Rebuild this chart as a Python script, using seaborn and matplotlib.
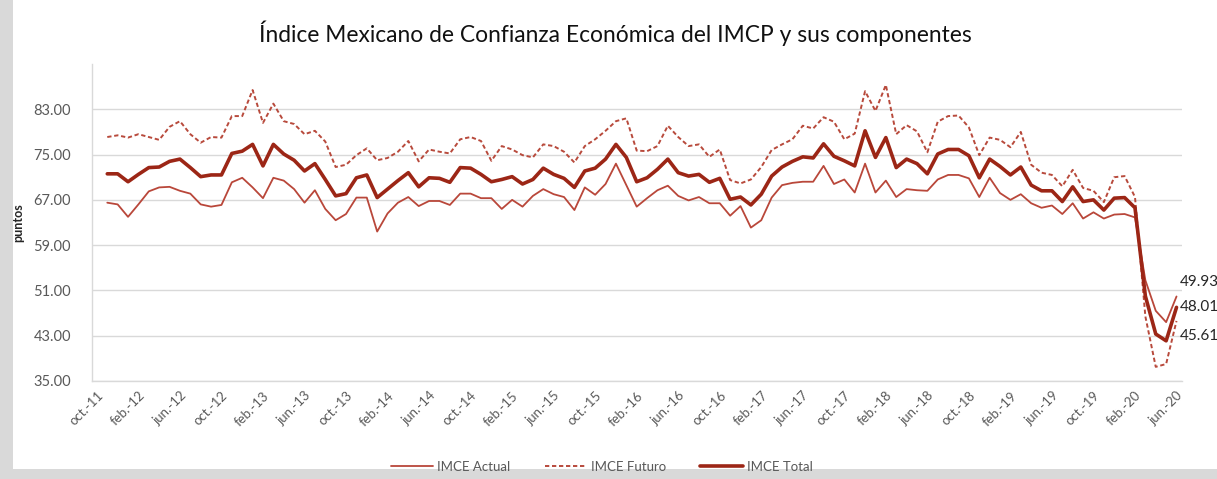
import matplotlib
matplotlib.use("Agg")
import matplotlib.pyplot as plt
import numpy as np
import pandas as pd
import seaborn as sns
from matplotlib.patches import Rectangle
from matplotlib.ticker import FixedLocator, FuncFormatter


MONTH_ABBR = ["ene.", "feb.", "mar.", "abr.", "may.", "jun.",
              "jul.", "ago.", "sep.", "oct.", "nov.", "dic."]

# categories: oct-11 ... jun-20 (data begins nov-11)
START_YEAR, START_MONTH = 2011, 10
N_CATEGORIES = 105

imce_actual = [
    66.5, 66.2, 64.0, 66.2, 68.5, 69.2, 69.3, 68.6, 68.1, 66.2, 65.8, 66.1,
    70.1, 70.9, 69.2, 67.3, 70.9, 70.4, 68.9, 66.5, 68.7, 65.4, 63.4, 64.5,
    67.4, 67.4, 61.4, 64.6, 66.5, 67.5, 65.9, 66.8, 66.8, 66.1, 68.1, 68.1,
    67.3, 67.3, 65.4, 67.0, 65.8, 67.7, 68.9, 68.0, 67.5, 65.2, 69.2, 67.9,
    69.8, 73.4, 69.6, 65.8, 67.3, 68.7, 69.5, 67.7, 66.9, 67.5, 66.4, 66.4,
    64.2, 65.9, 62.1, 63.4, 67.4, 69.6, 70.0, 70.2, 70.2, 73.0, 69.8, 70.6,
    68.3, 73.4, 68.3, 70.4, 67.5, 68.9, 68.7, 68.6, 70.6, 71.4, 71.4, 70.8,
    67.5, 70.9, 68.2, 67.0, 68.0, 66.4, 65.6, 66.0, 64.5, 66.4, 63.7, 64.8,
    63.7, 64.4, 64.5, 63.9, 52.8, 47.4, 45.4, 49.93,
]

imce_futuro = [
    78.1, 78.4, 78.0, 78.6, 78.1, 77.6, 79.9, 80.9, 78.6, 77.1, 78.1, 78.0,
    81.8, 81.8, 86.4, 80.6, 84.0, 80.9, 80.4, 78.6, 79.2, 77.3, 72.8, 73.2,
    74.9, 76.1, 74.0, 74.4, 75.5, 77.4, 73.8, 75.9, 75.5, 75.2, 77.7, 78.1,
    77.4, 73.9, 76.5, 75.9, 74.9, 74.5, 76.8, 76.5, 75.5, 73.6, 76.5, 77.7,
    79.2, 80.9, 81.4, 75.7, 75.6, 76.5, 80.1, 78.1, 76.5, 76.8, 74.6, 75.9,
    70.5, 69.9, 70.6, 72.8, 75.8, 76.8, 77.7, 80.1, 79.6, 81.6, 80.8, 77.7,
    78.7, 86.2, 82.7, 87.3, 78.6, 80.2, 79.1, 75.4, 80.8, 81.8, 81.9, 79.8,
    74.9, 78.0, 77.6, 76.3, 79.0, 73.2, 71.8, 71.4, 69.4, 72.3, 69.1, 68.6,
    66.6, 71.0, 71.2, 67.5, 46.4, 37.5, 38.0, 45.61,
]

imce_total = [
    71.6, 71.6, 70.2, 71.5, 72.7, 72.8, 73.8, 74.2, 72.7, 71.1, 71.4, 71.4,
    75.2, 75.6, 76.8, 73.0, 76.8, 75.1, 74.0, 72.1, 73.4, 70.6, 67.7, 68.1,
    70.9, 71.4, 67.4, 68.9, 70.4, 71.8, 69.3, 70.9, 70.8, 70.1, 72.7, 72.6,
    71.5, 70.2, 70.6, 71.1, 69.8, 70.6, 72.6, 71.5, 70.8, 69.2, 72.1, 72.6,
    74.2, 76.8, 74.5, 70.2, 70.9, 72.4, 74.2, 71.8, 71.2, 71.5, 70.1, 70.8,
    67.1, 67.5, 66.1, 68.0, 71.2, 72.8, 73.8, 74.6, 74.4, 76.9, 74.7, 73.9,
    73.0, 79.2, 74.5, 78.0, 72.7, 74.2, 73.4, 71.6, 75.1, 75.9, 75.9, 74.8,
    70.9, 74.2, 72.9, 71.4, 72.8, 69.6, 68.6, 68.6, 66.7, 69.3, 66.7, 67.0,
    65.2, 67.3, 67.4, 65.6, 50.0, 43.3, 42.1, 48.01,
]

y_ticks = [35, 43, 51, 59, 67, 75, 83]

RED_THIN = "#b9473a"
RED_DASH = "#b84a3c"
RED_THICK = "#9c2616"
TEXT = "#595959"
GRID = "#d9d9d9"


def category_labels():
    labels = []
    for i in range(N_CATEGORIES):
        m = START_MONTH - 1 + i
        year = START_YEAR + m // 12
        labels.append(f"{MONTH_ABBR[m % 12]}-{year % 100:02d}")
    return labels


def build_frame():
    n = len(imce_total)
    pos = np.arange(N_CATEGORIES - n, N_CATEGORIES)
    return pd.DataFrame({
        "pos": pos,
        "actual": imce_actual,
        "futuro": imce_futuro,
        "total": imce_total,
    })


def run():
    sns.set_style("white")
    plt.rcParams["font.family"] = ["Lato", "DejaVu Sans"]

    df = build_frame()
    labels = category_labels()

    fig = plt.figure(figsize=(12.17, 4.79), dpi=100)
    fig.patch.set_facecolor("white")
    # grey frame at the left and bottom edges of the screenshot
    fig.patches.append(Rectangle((0, 0), 13 / 1217, 1, transform=fig.transFigure,
                                 facecolor="#d9d9d9", edgecolor="none", zorder=-10))
    fig.patches.append(Rectangle((0, 0), 1, 10 / 479, transform=fig.transFigure,
                                 facecolor="#d9d9d9", edgecolor="none", zorder=-10))
    ax = fig.add_axes([91.7 / 1217, 1 - 381 / 479, 1090 / 1217, 317 / 479])
    ax.set_facecolor("white")

    sns.lineplot(data=df, x="pos", y="actual", ax=ax, color=RED_THIN,
                 linewidth=1.3, label="IMCE Actual")
    sns.lineplot(data=df, x="pos", y="futuro", ax=ax, color=RED_DASH,
                 linewidth=1.4, linestyle=(0, (2.2, 1.4)), label="IMCE Futuro")
    sns.lineplot(data=df, x="pos", y="total", ax=ax, color=RED_THICK,
                 linewidth=2.6, label="IMCE Total")

    ax.set_xlim(-0.5, N_CATEGORIES - 0.5)
    ax.set_ylim(35, 91)
    ax.set_yticks(y_ticks)
    ax.yaxis.set_major_formatter(FuncFormatter(lambda v, _: f"{v:.2f}"))
    ax.grid(axis="y", color=GRID, linewidth=1.0)
    ax.set_axisbelow(True)

    label_pos = list(range(0, N_CATEGORIES, 4))
    ax.set_xticks(label_pos)
    ax.set_xticklabels([labels[i] for i in label_pos], rotation=45, ha="right",
                       rotation_mode="anchor", fontsize=9.5, color=TEXT)
    ax.xaxis.set_minor_locator(FixedLocator([p - 0.5 for p in label_pos]))
    ax.tick_params(axis="x", which="major", length=0, pad=6)
    ax.tick_params(axis="x", which="minor", length=5, color=GRID, width=1, direction="out")
    ax.tick_params(axis="y", length=0, labelsize=10.5, labelcolor=TEXT, pad=15)

    for side in ["top", "right"]:
        ax.spines[side].set_visible(False)
    for side in ["left", "bottom"]:
        ax.spines[side].set_color(GRID)
        ax.spines[side].set_linewidth(1.0)

    ax.set_xlabel("")
    ax.set_ylabel("puntos", fontsize=9, fontweight="bold", color="#262626")
    ax.yaxis.set_label_coords(-0.062, 0.5)

    last = df["pos"].iloc[-1]
    for val, dy in [(imce_actual[-1], 2.5), (imce_total[-1], 0.0), (imce_futuro[-1], -2.6)]:
        ax.annotate(f"{val:.2f}", xy=(last, val), xytext=(3, dy * 5.66),
                    textcoords="offset pixels", ha="left", va="center",
                    fontsize=11, color="#262626", annotation_clip=False)

    ax.set_title("Índice Mexicano de Confianza Económica del IMCP y sus componentes",
                 fontsize=16.4, color="#111111", pad=16, x=0.48)

    leg = ax.legend(loc="upper center", bbox_to_anchor=(0.468, -0.215), ncol=3,
                    frameon=False, fontsize=9.5, handlelength=3.2, columnspacing=2.6,
                    handletextpad=0.3)
    for text in leg.get_texts():
        text.set_color(TEXT)

    fig.savefig("out.png", dpi=100, facecolor=fig.get_facecolor())
    plt.close(fig)


if __name__ == "__main__":
    run()
